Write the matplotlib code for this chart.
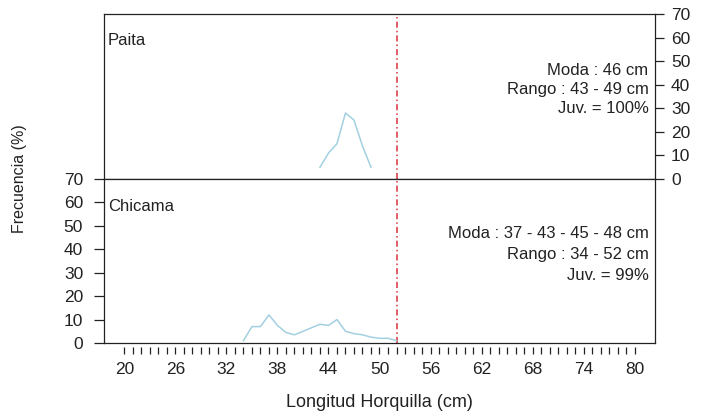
import matplotlib.pyplot as plt
import numpy as np

plt.rcParams["font.family"] = ["Liberation Sans", "DejaVu Sans"]

# Paita (top panel)
paita_len = [43, 44, 45, 46, 47, 48, 49]
paita_freq = [5, 11, 15, 28, 25, 14, 5]

# Chicama (bottom panel)
chicama_len = [34, 35, 36, 37, 38, 39, 40, 41, 42, 43, 44, 45, 46, 47, 48, 49, 50, 51, 52]
chicama_freq = [1, 7, 7, 12, 7.5, 4.5, 3.5, 5, 6.5, 8, 7.5, 10, 5, 4, 3.5, 2.5, 2, 2, 1]

juv_limit = 52
x_ticks = np.arange(20, 81, 1)
x_labels = list(range(20, 81, 6))
y_ticks = list(range(0, 71, 10))

paita_text = ["Moda : 46 cm", "Rango : 43 - 49 cm", "Juv. = 100%"]
chicama_text = ["Moda : 37 - 43 - 45 - 48 cm", "Rango : 34 - 52 cm", "Juv. = 99%"]

W, H = 706, 415
left, right = 104, 655
top, mid, bottom = 14, 179, 343
xlim = (17.6, 82.4)
line_color = "#a3d0e0"
red = "#d8323c"
txt = "#222222"
tick_fs = 12.5
ann_fs = 12

fig = plt.figure(figsize=(W / 100, H / 100), dpi=100)
ax_top = fig.add_axes([left / W, (H - mid) / H, (right - left) / W, (mid - top) / H])
ax_bot = fig.add_axes([left / W, (H - bottom) / H, (right - left) / W, (bottom - mid) / H])

for ax in (ax_top, ax_bot):
    ax.set_xlim(*xlim)
    ax.set_ylim(0, 70)
    ax.set_xticks([])
    for sp in ax.spines.values():
        sp.set_linewidth(0.9)
        sp.set_color("#222222")
    ax.axvline(juv_limit, color=red, lw=1.1, ls=(0, (4, 2, 1, 2)))

# top panel: y axis on the right
ax_top.plot(paita_len, paita_freq, color=line_color, lw=1.1)
ax_top.yaxis.tick_right()
ax_top.set_yticks(y_ticks)
ax_top.tick_params(axis="y", direction="out", length=6.5, width=0.9, pad=5,
                   labelsize=tick_fs, colors=txt)
ax_top.text(0.007, 0.84, "Paita", transform=ax_top.transAxes, fontsize=ann_fs,
            color=txt, va="center", ha="left")
for i, s in enumerate(paita_text):
    ax_top.text(0.988, 0.66 - i * 0.115, s, transform=ax_top.transAxes,
                fontsize=ann_fs, color=txt, ha="right", va="center")

# bottom panel: y axis on the left
ax_bot.plot(chicama_len, chicama_freq, color=line_color, lw=1.1)
ax_bot.set_yticks(y_ticks)
ax_bot.tick_params(axis="y", direction="out", length=7, width=0.9, pad=8,
                   labelsize=tick_fs, colors=txt)
ax_bot.text(0.007, 0.835, "Chicama", transform=ax_bot.transAxes, fontsize=ann_fs,
            color=txt, va="center", ha="left")
for i, s in enumerate(chicama_text):
    ax_bot.text(0.988, 0.665 - i * 0.128, s, transform=ax_bot.transAxes,
                fontsize=ann_fs, color=txt, ha="right", va="center")

# separate x axis with a small gap below the frame
ax_x = fig.add_axes([left / W, (H - 347) / H, (right - left) / W, 0.0001])
ax_x.set_xlim(*xlim)
ax_x.set_yticks([])
for sp in ax_x.spines.values():
    sp.set_visible(False)
ax_x.patch.set_visible(False)
ax_x.set_xticks(x_ticks)
ax_x.set_xticklabels([str(v) if v in x_labels else "" for v in x_ticks])
ax_x.tick_params(axis="x", direction="out", length=5, width=0.9, pad=6,
                 labelsize=tick_fs, colors=txt)
ax_x.set_xlabel("Longitud Horquilla (cm)", fontsize=13, color=txt, labelpad=12)

fig.text(20 / W, 1 - 179 / H, "Frecuencia (%)", rotation=90, fontsize=11.5,
         color=txt, ha="center", va="center")

fig.savefig("out.png", dpi=100, facecolor="white")
